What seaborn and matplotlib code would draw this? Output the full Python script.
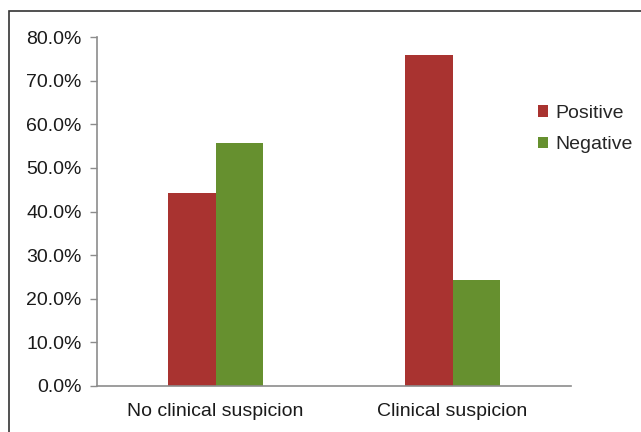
import numpy as np
import pandas as pd
import matplotlib
matplotlib.use("Agg")
import matplotlib.pyplot as plt
import seaborn as sns
from matplotlib.patches import Rectangle, Patch
from matplotlib.ticker import PercentFormatter

# values
groups = ["No clinical suspicion", "Clinical suspicion"]
positive = [44.3, 75.8]
negative = [55.7, 24.2]
series = ["Positive", "Negative"]
colors = ["#A93330", "#66902F"]

df = pd.DataFrame({
    "group": groups * 2,
    "result": [series[0]] * 2 + [series[1]] * 2,
    "pct": positive + negative,
})

sns.set_style("white")
plt.rcParams["font.family"] = ["Liberation Sans", "DejaVu Sans"]

fig = plt.figure(figsize=(6.41, 4.32), dpi=100)
ax = fig.add_axes([97 / 641, 1 - 386 / 432, 474 / 641, 349 / 432])

sns.barplot(data=df, x="group", y="pct", hue="result", order=groups,
            hue_order=series, palette=colors, width=0.40, saturation=1,
            linewidth=0, ax=ax, legend=False)

ax.set_ylim(0, 80)
ax.set_yticks(np.arange(0, 81, 10))
ax.yaxis.set_major_formatter(PercentFormatter(decimals=1))
ax.set_xlabel("")
ax.set_ylabel("")
ax.tick_params(axis="y", which="major", left=True, length=5, width=1,
               color="#8c8c8c", labelsize=14, pad=6, labelcolor="#1a1a1a")
ax.tick_params(axis="x", bottom=False, labelsize=14, pad=9, labelcolor="#1a1a1a")
for s in ["top", "right"]:
    ax.spines[s].set_visible(False)
for s in ["left", "bottom"]:
    ax.spines[s].set_color("#8c8c8c")
    ax.spines[s].set_linewidth(1.2)

handles = [Patch(facecolor=c, edgecolor="none") for c in colors]
fig.legend(handles, series, loc="upper left", bbox_to_anchor=(530 / 641, 1 - 97 / 432),
           frameon=False, fontsize=14, handlelength=0.55, handleheight=0.55,
           handletextpad=0.35, labelspacing=0.75, borderaxespad=0)

# frame line at left and top of the picture
fig.patches.append(Rectangle((9 / 641, -0.1), 1.2, 1 - 11 / 432 + 0.1,
                             transform=fig.transFigure, fill=False,
                             edgecolor="#333333", linewidth=1.2))

fig.savefig("out.png", dpi=100)
